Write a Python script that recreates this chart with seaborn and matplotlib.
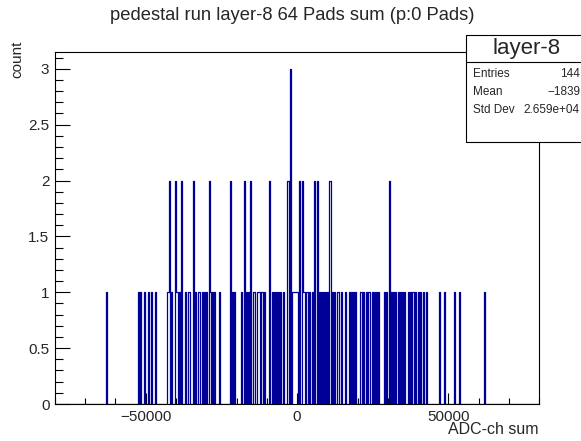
import matplotlib
matplotlib.use("Agg")
import matplotlib.pyplot as plt
from matplotlib.patches import Rectangle
from matplotlib.lines import Line2D
from matplotlib.ticker import MultipleLocator, FixedLocator
import pandas as pd
import seaborn as sns

# Summed ADC value of the 64 pads, one entry per pedestal event
single_hits = [
    -62800, -52570, -51900, -50580, -49090, -48270, -46940,
    -42980, -42550, -41490, -39840, -39340, -38680, -36860, -35870, -35370,
    -33560, -32400, -32070, -31180, -30420, -29850, -28430, -27770, -27110,
    -25460, -21160, -20500, -18350, -16860, -16200, -14650, -14050, -13320,
    -12890, -12400, -11900, -11410, -10910, -8270, -7600, -6940, -6280,
    -5620, -4460, -1650, -1320, -990, -660, -100, 330,
    2150, 2640, 3140, 3640, 4130, 5120, 7600, 8270, 8930, 9590, 10080,
    11900, 12560, 13390, 13890, 14880, 16200, 17520, 18180, 18840, 19510,
    20830, 21320, 21820, 22810, 23470, 23970, 24800, 25460, 26120, 26780,
    28760, 29420, 31080, 31740, 32400, 33390, 34050, 34710, 35370,
    36700, 37360, 38020, 38510, 39010, 40000, 40990, 41990, 42980,
    47280, 48930, 52230, 53890, 61820,
]
double_hits = [
    -42150, -40230, -38120, -34050, -28990, -21920, -17520, -15540, -9160,
    -3310, -2810, 990, 1820, 5950, 6940, 10740, 11240, 30510,
]
triple_hits = [-2080]

adc_sum = single_hits + double_hits * 2 + triple_hits * 3
events = pd.DataFrame({"adc_sum": adc_sum})

n_bins = 480
x_range = (-80000, 80000)
y_max = 3.15

title_text = "pedestal run layer-8 64 Pads sum (p:0 Pads)"
x_label = "ADC-ch sum"
y_label = "count"
x_major = [-50000, 0, 50000]
y_major = [0, 0.5, 1, 1.5, 2, 2.5, 3]

box_title = "layer-8"
stat_names = ["Entries", "Mean", "Std Dev"]
stat_values = ["144", "\u22121839", "2.659e+04"]

sns.set_style("ticks")
plt.rcParams["font.family"] = ["Liberation Sans", "DejaVu Sans"]
plt.rcParams["axes.unicode_minus"] = True

W, H = 581, 441
fig = plt.figure(figsize=(W / 100, H / 100), dpi=100)
fig.patch.set_facecolor("white")

# axes frame in pixel units
ax_l, ax_r, ax_t, ax_b = 55, 539, 52, 404
ax = fig.add_axes([ax_l / W, 1 - ax_b / H, (ax_r - ax_l) / W, (ax_b - ax_t) / H])
ax.set_facecolor("white")

sns.histplot(
    data=events, x="adc_sum", bins=n_bins, binrange=x_range,
    element="step", fill=False, color="#000099", linewidth=0.9, ax=ax,
)

ax.set_xlim(*x_range)
ax.set_ylim(0, y_max)
ax.set_xlabel("")
ax.set_ylabel("")

ax.xaxis.set_major_locator(FixedLocator(x_major))
ax.xaxis.set_minor_locator(MultipleLocator(10000))
ax.yaxis.set_major_locator(FixedLocator(y_major))
ax.yaxis.set_minor_locator(MultipleLocator(0.1))
ax.set_yticklabels(["0", "0.5", "1", "1.5", "2", "2.5", "3"])
ax.set_xticklabels(["\u221250000", "0", "50000"])

for side in ["left", "right", "top", "bottom"]:
    ax.spines[side].set_visible(True)
    ax.spines[side].set_color("black")
    ax.spines[side].set_linewidth(0.8)

ax.tick_params(axis="x", which="major", direction="in", length=8, width=0.8,
               labelsize=11, pad=4, color="black", top=False)
ax.tick_params(axis="x", which="minor", direction="in", length=4, width=0.8,
               color="black", top=False)
ax.tick_params(axis="y", which="major", direction="in", length=10.8, width=0.8,
               labelsize=11, pad=4, color="black", right=False)
ax.tick_params(axis="y", which="minor", direction="in", length=5.4, width=0.8,
               color="black", right=False)

# title and axis titles
fig.text(292 / W, 1 - 15 / H, title_text, ha="center", va="center", fontsize=13.2)
fig.text(ax_r / W, 1 - 430 / H, x_label, ha="right", va="center", fontsize=11.5)
fig.text(17 / W, 1 - 41 / H, y_label, ha="center", va="top", rotation=90, fontsize=11)

# statistics box
bx0, bx1, by0, by1 = 466, 590, 35, 142
fig.add_artist(Rectangle((bx0 / W, 1 - by1 / H), (bx1 - bx0) / W, (by1 - by0) / H,
                         transform=fig.transFigure, facecolor="white",
                         edgecolor="black", linewidth=0.8, zorder=5))
fig.add_artist(Line2D([bx0 / W, bx1 / W], [1 - 62 / H, 1 - 62 / H],
                      transform=fig.transFigure, color="black", linewidth=0.8, zorder=6))
fig.text(527 / W, 1 - 48.5 / H, box_title, ha="center", va="center",
         fontsize=16, zorder=7)
for i, (name, val) in enumerate(zip(stat_names, stat_values)):
    y = 1 - (74 + 18 * i) / H
    fig.text(473 / W, y, name, ha="left", va="center", fontsize=8.5, zorder=7)
    fig.text(580 / W, y, val, ha="right", va="center", fontsize=8.5, zorder=7)

fig.savefig("out.png", dpi=100)
